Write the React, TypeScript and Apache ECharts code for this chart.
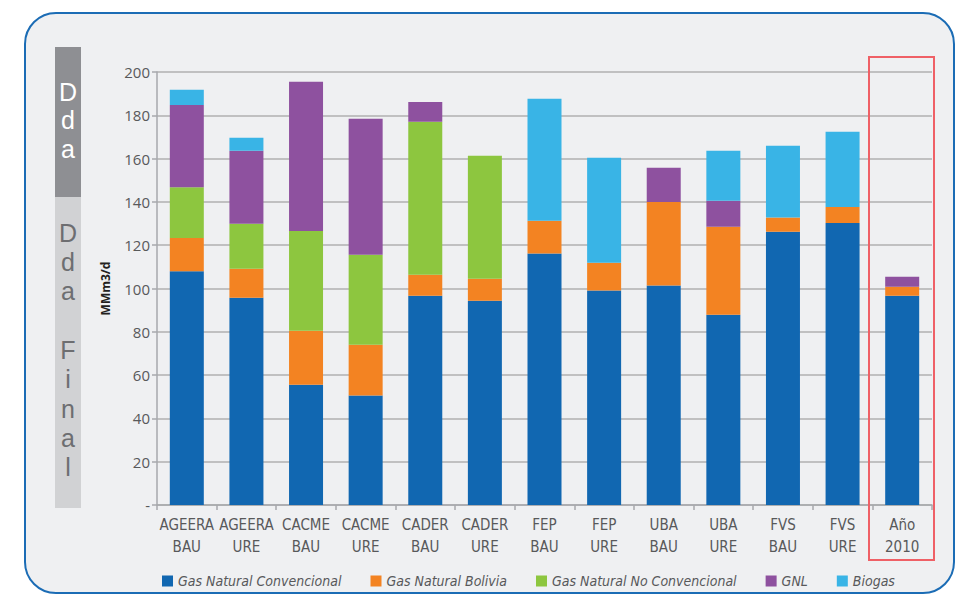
import React, { useEffect, useRef } from "react";
import * as echarts from "echarts";

const categories = [
  "AGEERA\nBAU", "AGEERA\nURE", "CACME\nBAU", "CACME\nURE", "CADER\nBAU", "CADER\nURE",
  "FEP\nBAU", "FEP\nURE", "UBA\nBAU", "UBA\nURE", "FVS\nBAU", "FVS\nURE", "Año\n2010",
];
const gasConvencional = [108, 95.7, 55.5, 50.6, 96.6, 94.3, 116.2, 99.1, 101.4, 87.9, 126.2, 130.3, 96.6];
const gasBolivia = [15.3, 13.4, 25, 23.4, 9.7, 10.2, 15.1, 12.8, 38.6, 40.6, 6.6, 7.4, 4.2];
const gasNoConvencional = [23.5, 20.8, 46.1, 41.6, 70.7, 56.8, 0, 0, 0, 0, 0, 0, 0];
const gnl = [38, 33.7, 68.9, 62.8, 9.2, 0, 0, 0, 15.8, 12, 0, 0, 4.6];
const biogas = [7, 6, 0, 0, 0, 0, 56.3, 48.5, 0, 23.1, 33.1, 34.7, 0];

const seriesNames = [
  "Gas Natural Convencional",
  "Gas Natural Bolivia",
  "Gas Natural No Convencional",
  "GNL",
  "Biogas",
];
const seriesColors = ["#1167b1", "#f38322", "#8dc63f", "#8e519f", "#39b4e6"];
const seriesData = [gasConvencional, gasBolivia, gasNoConvencional, gnl, biogas];

const sideUpper = ["D", "d", "a"];
const sideUpperY = [92, 120, 149];
const sideLower = ["D", "d", "a", "F", "i", "n", "a", "l"];
const sideLowerY = [233, 262, 291, 350, 379, 409, 438, 467];

const condensed = "'DejaVu Sans Condensed', 'Liberation Sans Narrow', Roboto, 'Liberation Sans', sans-serif";
const sideFont = "25px 'Liberation Sans', Arial, sans-serif";

export default function App() {
  const ref = useRef<HTMLDivElement>(null);

  useEffect(() => {
    document.body.style.margin = "0";
    if (!ref.current) return;
    const chart = echarts.init(ref.current, undefined, { renderer: "svg" });

    const graphics: any[] = [
      { type: "rect", shape: { x: 55, y: 47, width: 26, height: 150 }, style: { fill: "#8e8f93" } },
      { type: "rect", shape: { x: 55, y: 197, width: 26, height: 311 }, style: { fill: "#d1d2d4" } },
      {
        type: "rect",
        shape: { x: 869, y: 57, width: 65, height: 503 },
        style: { fill: "none", stroke: "#ef6066", lineWidth: 2 },
        z: 100,
      },
    ];
    sideUpper.forEach((t, i) =>
      graphics.push({
        type: "text",
        x: 68,
        y: sideUpperY[i],
        style: { text: t, fill: "#ffffff", font: sideFont, textAlign: "center", textVerticalAlign: "middle" },
      })
    );
    sideLower.forEach((t, i) =>
      graphics.push({
        type: "text",
        x: 68,
        y: sideLowerY[i],
        style: { text: t, fill: "#6d6e71", font: sideFont, textAlign: "center", textVerticalAlign: "middle" },
      })
    );

    chart.setOption({
      animation: false,
      backgroundColor: "transparent",
      grid: { left: 157, right: 28, top: 72, bottom: 91 },
      legend: {
        top: 569,
        left: 157,
        itemWidth: 11,
        itemHeight: 11,
        itemGap: 29,
        icon: "rect",
        textStyle: { color: "#58595b", fontSize: 14, fontStyle: "italic", fontFamily: condensed },
        data: seriesNames,
      },
      xAxis: {
        type: "category",
        data: categories,
        axisLine: { lineStyle: { color: "#a7a9ac", width: 1.5 } },
        axisTick: { show: true, length: 5, lineStyle: { color: "#a7a9ac", width: 1.5 } },
        axisLabel: {
          interval: 0,
          color: "#58595b",
          fontSize: 15,
          lineHeight: 22,
          margin: 9,
          fontFamily: condensed,
        },
      },
      yAxis: {
        type: "value",
        min: 0,
        max: 200,
        interval: 20,
        name: "MMm3/d",
        nameLocation: "middle",
        nameGap: 46,
        nameTextStyle: { fontWeight: "bold", fontSize: 12, color: "#231f20", fontFamily: "'Open Sans', sans-serif" },
        axisLine: { show: true, lineStyle: { color: "#a7a9ac", width: 1.5 } },
        axisTick: { show: true, length: 5, lineStyle: { color: "#a7a9ac", width: 1.5 } },
        axisLabel: {
          color: "#58595b",
          fontSize: 15,
          margin: 7,
          fontFamily: "'Open Sans', 'Noto Sans', sans-serif",
          formatter: (v: number) => (v === 0 ? "-" : String(v)),
        },
        splitLine: { show: true, lineStyle: { color: "#b1b1b1", width: 1.5 } },
      },
      series: seriesNames.map((name, i) => ({
        name,
        type: "bar",
        stack: "total",
        barWidth: 34,
        itemStyle: { color: seriesColors[i] },
        data: seriesData[i],
      })),
      graphic: graphics,
    });

    return () => chart.dispose();
  }, []);

  return (
    <div style={{ position: "relative", width: 960, height: 596, background: "#ffffff", overflow: "hidden" }}>
      <div
        style={{
          position: "absolute",
          left: 24,
          top: 12,
          width: 931,
          height: 582,
          boxSizing: "border-box",
          border: "2.5px solid #1b6cb5",
          borderRadius: 32,
          background: "#eff0f2",
        }}
      />
      <div ref={ref} style={{ position: "absolute", left: 0, top: 0, width: 960, height: 596 }} />
    </div>
  );
}
